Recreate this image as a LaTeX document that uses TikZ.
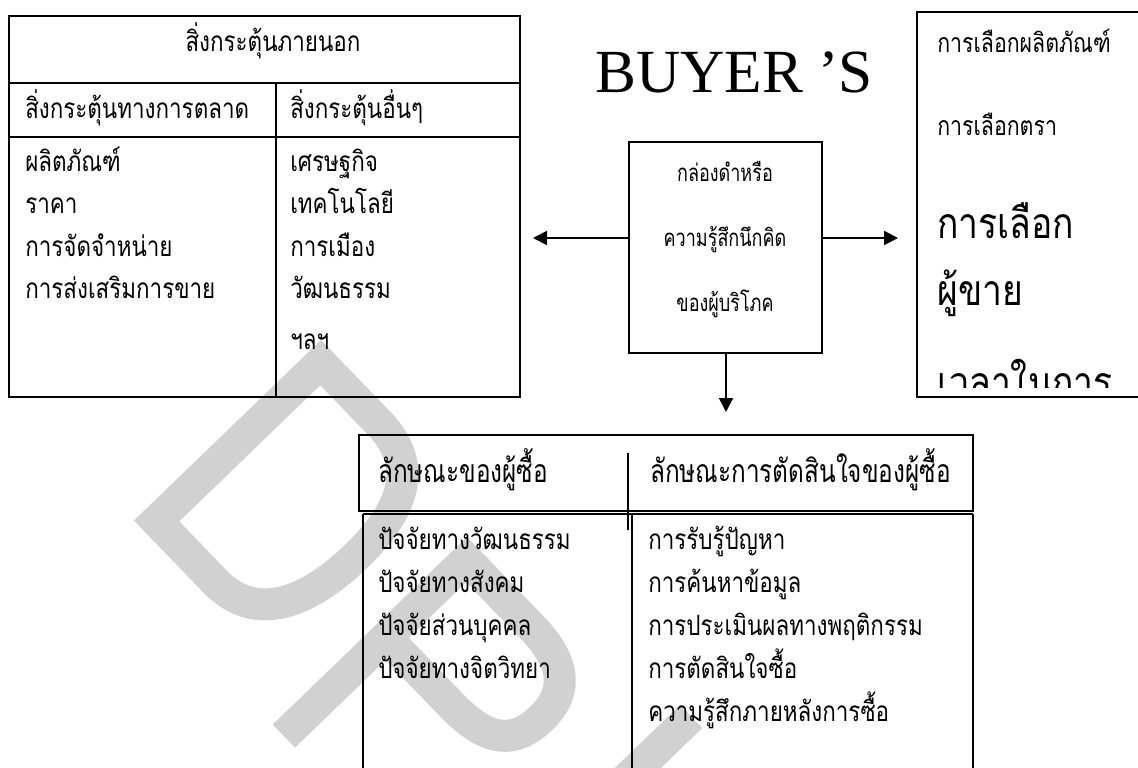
\documentclass[tikz,border=0pt]{standalone}
\usepackage{fontspec}
\setmainfont{Liberation Serif}
\newfontfamily\thaiA[Script=Thai,FakeStretch=0.8]{Loma}
\newfontfamily\thaiC[Script=Thai,FakeStretch=0.75]{Loma}
\newfontfamily\thaiH[Script=Thai,FakeStretch=0.76]{Loma}
\newfontfamily\thaiB[Script=Thai,FakeStretch=0.83]{Loma}
\usetikzlibrary{arrows.meta}
\begin{document}
\begin{tikzpicture}[x=0.75pt,y=-0.75pt,
  ln/.style={line width=1.5pt},
  thinln/.style={line width=1pt},
  arr/.style={line width=1.5pt,-{Triangle[length=10.5pt,width=10.5pt]}},
  wm/.style={draw=black!18,line width=24pt,line join=miter},
  tL/.style={font=\thaiA\fontsize{21}{24}\selectfont,inner sep=0pt,anchor=base west},
  tS/.style={font=\thaiA\fontsize{20}{24}\selectfont,inner sep=0pt,anchor=base west},
  tC/.style={font=\thaiC\fontsize{18}{20}\selectfont,inner sep=0pt,anchor=base},
  tH/.style={font=\thaiH\fontsize{24}{28}\selectfont,inner sep=0pt,anchor=base west},
  tB/.style={font=\thaiB\fontsize{32}{36}\selectfont,inner sep=0pt,anchor=base west}]
\useasboundingbox (0,0) rectangle (1138,767);
\clip (0,0) rectangle (1138,767);
\fill[white] (0,0) rectangle (1138,767);
% watermark
\begin{scope}[shift={(321,340)},rotate=-46]
\draw[wm] (16,16) -- (100,16) .. controls (160,16) and (180,60) .. (180,125) .. controls (180,190) and (160,244) .. (100,244) -- (16,244) -- cycle;
\end{scope}
\begin{scope}[shift={(467,537)},rotate=-46]
\draw[wm] (16,270) -- (16,16) -- (110,16) .. controls (165,16) and (182,40) .. (182,72) .. controls (182,108) and (165,128) .. (110,128) -- (16,128);
\end{scope}
\begin{scope}[shift={(680,705)},rotate=-46]
\draw[wm] (16,0) -- (16,160) .. controls (16,225) and (55,244) .. (95,244) .. controls (135,244) and (175,225) .. (175,160) -- (175,0);
\end{scope}
% left table
\draw[ln] (9,16) rectangle (520,397);
\draw[ln] (9,83) -- (520,83);
\draw[ln] (9,137) -- (520,137);
\draw[ln] (276,83) -- (276,397);
\node[tL,anchor=base] (lh) at (273,52) {สิ่งกระตุ้นภายนอก};
\node[tL] (lm) at (25,118) {สิ่งกระตุ้นทางการตลาด};
\node[tL] (lo) at (290,118) {สิ่งกระตุ้นอื่นๆ};
\node[tL] (l1) at (25,171) {ผลิตภัณฑ์};
\node[tL] (l2) at (25,213) {ราคา};
\node[tL] (l3) at (25,256) {การจัดจำหน่าย};
\node[tL] (l4) at (25,298) {การส่งเสริมการขาย};
\node[tL] (r1) at (290,171) {เศรษฐกิจ};
\node[tL] (r2) at (290,213) {เทคโนโลยี};
\node[tL] (r3) at (290,256) {การเมือง};
\node[tL] (r4) at (290,298) {วัฒนธรรม};
\node[tL] (r5) at (290,349) {ฯลฯ};
% title
\node[font=\fontsize{46}{50}\selectfont,inner sep=0pt,anchor=base west] (title) at (595,93) {BUYER ’S};
% center box
\node[draw,line width=1.5pt,minimum width=144.75pt,minimum height=158.25pt,inner sep=0pt] (cbox) at (725.5,247.5) {};
\node[tC] (c1) at (725,181) {กล่องดำหรือ};
\node[tC] (c2) at (725,246) {ความรู้สึกนึกคิด};
\node[tC] (c3) at (725,311) {ของผู้บริโภค};
\coordinate (la) at (533,238);
\coordinate (ra) at (898,238);
\coordinate (da) at (726,412);
\draw[arr] (cbox.west |- la) -- (la);
\draw[arr] (cbox.east |- ra) -- (ra);
\draw[arr] (cbox.south -| da) -- (da);
% right box
\draw[ln] (1150,12) -- (917,12) -- (917,397) -- (1150,397);
\node[tS] (p1) at (937,53) {การเลือกผลิตภัณฑ์};
\node[tS] (p2) at (937,135) {การเลือกตรา};
\node[tB] (p3) at (937,238) {การเลือก};
\node[tB] (p4) at (937,305) {ผู้ขาย};
\begin{scope}
\clip (917,12) rectangle (1138,387);
\node[tB] (p5) at (937,397) {เวลาในการ};
\end{scope}
% bottom table
\draw[ln] (359,435) rectangle (973,511);
\draw[thinln] (628,453) -- (628,530);
\draw[ln] (363,514) -- (973,514);
\draw[ln] (363,514) -- (363,780);
\draw[ln] (973,514) -- (973,780);
\draw[ln] (632,514) -- (632,780);
\node[tH] (h1) at (378,482) {ลักษณะของผู้ซื้อ};
\node[tH] (h2) at (650,482) {ลักษณะการตัดสินใจของผู้ซื้อ};
\node[tL] (b1) at (378,549) {ปัจจัยทางวัฒนธรรม};
\node[tL] (b2) at (378,592) {ปัจจัยทางสังคม};
\node[tL] (b3) at (378,635) {ปัจจัยส่วนบุคคล};
\node[tL] (b4) at (378,678) {ปัจจัยทางจิตวิทยา};
\node[tL] (d1) at (648,549) {การรับรู้ปัญหา};
\node[tL] (d2) at (648,592) {การค้นหาข้อมูล};
\node[tL] (d3) at (648,635) {การประเมินผลทางพฤติกรรม};
\node[tL] (d4) at (648,678) {การตัดสินใจซื้อ};
\node[tL] (d5) at (648,721) {ความรู้สึกภายหลังการซื้อ};
\end{tikzpicture}
\end{document}
